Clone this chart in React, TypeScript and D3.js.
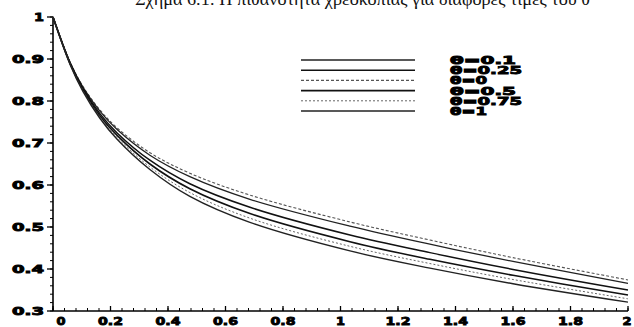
import React from "react";
import * as d3 from "d3";

const W = 634;
const H = 327;

const title = "Σχήμα 6.1: Η πιθανότητα χρεοκοπίας για διάφορες τιμές του θ";

// u grid (x values)
const uValues = [0, 0.06, 0.104, 0.163, 0.223, 0.337, 0.476, 0.685, 1.033, 1.311, 1.6, 2.0];

// ruin probabilities per θ (top curve = θ=0, bottom = θ=1)
const thetaLabels = ["θ=0", "θ=0.1", "θ=0.25", "θ=0.5", "θ=0.75", "θ=1"];
const psiTheta0 = [1, 0.892, 0.835, 0.779, 0.736, 0.677, 0.628, 0.576, 0.512, 0.469, 0.427, 0.374];
const psiTheta01 = [1, 0.891, 0.833, 0.776, 0.732, 0.671, 0.62, 0.566, 0.502, 0.459, 0.418, 0.366];
const psiTheta025 = [1, 0.889, 0.83, 0.77, 0.724, 0.659, 0.603, 0.547, 0.481, 0.439, 0.399, 0.35];
const psiTheta05 = [1, 0.888, 0.827, 0.765, 0.718, 0.65, 0.591, 0.532, 0.465, 0.423, 0.385, 0.338];
const psiTheta075 = [1, 0.887, 0.825, 0.762, 0.713, 0.643, 0.582, 0.521, 0.454, 0.413, 0.375, 0.329];
const psiTheta1 = [1, 0.886, 0.823, 0.759, 0.709, 0.637, 0.573, 0.511, 0.443, 0.402, 0.365, 0.321];
const seriesValues = [psiTheta0, psiTheta01, psiTheta025, psiTheta05, psiTheta075, psiTheta1];

// legend order as printed
const legendLabels = ["θ=0.1", "θ=0.25", "θ=0", "θ=0.5", "θ=0.75", "θ=1"];
const legendSeriesIndex = [1, 2, 0, 3, 4, 5];

const xTicks = [0, 0.2, 0.4, 0.6, 0.8, 1, 1.2, 1.4, 1.6, 1.8, 2];
const xTickLabels = ["0", "0.2", "0.4", "0.6", "0.8", "1", "1.2", "1.4", "1.6", "1.8", "2"];
const yTicks = [0.3, 0.4, 0.5, 0.6, 0.7, 0.8, 0.9, 1];
const yTickLabels = ["0.3", "0.4", "0.5", "0.6", "0.7", "0.8", "0.9", "1"];

const styles = [
  { stroke: "#555", width: 1.1, dash: "3,2" },
  { stroke: "#222", width: 1.3, dash: "" },
  { stroke: "#111", width: 1.5, dash: "" },
  { stroke: "#111", width: 1.6, dash: "" },
  { stroke: "#666", width: 1.0, dash: "2,2" },
  { stroke: "#222", width: 1.4, dash: "" },
];

export default function App() {
  const x = d3.scaleLinear().domain([0, 2]).range([53, 628]);
  const y = d3.scaleLinear().domain([0.3, 1]).range([311, 17]);
  const line = d3
    .line<number>()
    .x((_, i) => x(uValues[i]))
    .y((d) => y(d))
    .curve(d3.curveCatmullRom.alpha(0.5));

  const xMinor = d3.range(0, 2.0001, 0.04);
  const yMinor = d3.range(0.3, 1.0001, 0.02);
  const bold = {
    fontFamily: "DejaVu Sans",
    fontWeight: 700 as const,
    stroke: "#000",
    strokeWidth: 0.9,
    fill: "#000",
  };

  return (
    <svg
      width={W}
      height={H}
      style={{ position: "absolute", left: 0, top: 0, background: "#fff" }}
    >
      <text x={135} y={5} fontFamily="Liberation Serif" fontSize={17} textLength={455} lengthAdjust="spacingAndGlyphs" fill="#111">
        {title}
      </text>

      {/* axes */}
      <line x1={x(0)} x2={x(0)} y1={y(1)} y2={y(0.3)} stroke="#000" strokeWidth={1.6} />
      <line x1={x(0)} x2={x(2)} y1={y(0.3)} y2={y(0.3)} stroke="#000" strokeWidth={1.6} />

      {yMinor.map((v, i) => (
        <line key={"ym" + i} x1={x(0) - 3} x2={x(0)} y1={y(v)} y2={y(v)} stroke="#000" strokeWidth={1} />
      ))}
      {yTicks.map((v, i) => (
        <g key={"yt" + i}>
          <line x1={x(0) - 6} x2={x(0)} y1={y(v)} y2={y(v)} stroke="#000" strokeWidth={1.3} />
          <text
            x={44}
            y={y(v) + 4}
            textAnchor="end"
            fontSize={11}
            {...bold}
            textLength={yTickLabels[i].length > 1 ? 32 : 10}
            lengthAdjust="spacingAndGlyphs"
          >
            {yTickLabels[i]}
          </text>
        </g>
      ))}

      {xMinor.map((v, i) => (
        <line key={"xm" + i} x1={x(v)} x2={x(v)} y1={y(0.3) - 3} y2={y(0.3)} stroke="#000" strokeWidth={1} />
      ))}
      {xTicks.map((v, i) => (
        <g key={"xt" + i}>
          <line x1={x(v)} x2={x(v)} y1={y(0.3) - 5} y2={y(0.3)} stroke="#000" strokeWidth={1.3} />
          <text
            x={x(v) + (i === 0 ? 8 : 0) - (i === xTicks.length - 1 ? 1 : 0)}
            y={325}
            textAnchor="middle"
            fontSize={11}
            {...bold}
            textLength={xTickLabels[i].length > 1 ? 25 : 9}
            lengthAdjust="spacingAndGlyphs"
          >
            {xTickLabels[i]}
          </text>
        </g>
      ))}

      {/* curves */}
      {seriesValues.map((vals, i) => (
        <path
          key={"s" + i}
          d={line(vals) || ""}
          fill="none"
          stroke={styles[i].stroke}
          strokeWidth={styles[i].width}
          strokeDasharray={styles[i].dash}
        />
      ))}

      {/* legend */}
      {legendLabels.map((lab, i) => {
        const ly = 60 + i * 10.2;
        const st = styles[legendSeriesIndex[i]];
        return (
          <g key={"lg" + i}>
            <line x1={301} x2={415} y1={ly} y2={ly} stroke={st.stroke} strokeWidth={st.width} strokeDasharray={st.dash} />
            <text
              x={450}
              y={ly + 4}
              fontSize={11}
              {...bold}
              textLength={lab.length <= 3 ? 37 : lab.length === 5 ? 66 : 72}
              lengthAdjust="spacingAndGlyphs"
            >
              {lab}
            </text>
          </g>
        );
      })}
    </svg>
  );
}
